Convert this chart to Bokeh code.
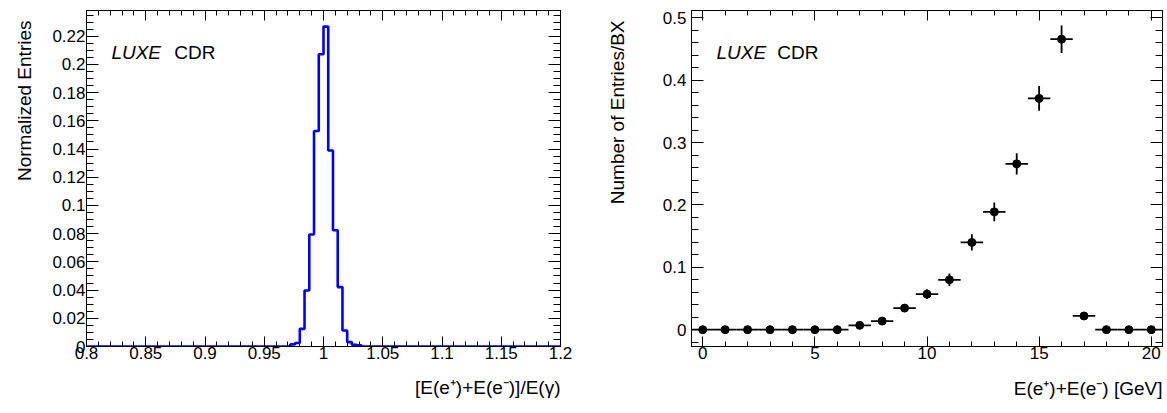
from bokeh.plotting import figure
from bokeh.models import (Range1d, SingleIntervalTicker, PrintfTickFormatter,
                          LinearAxis, Label, Title, ColumnDataSource)
from bokeh.layouts import row
from bokeh.embed import file_html
from bokeh.resources import INLINE
import numpy as np

FONT = "Liberation Sans"

# ---------------- left panel data: normalised energy-sum histogram -------------
hist_low = 0.8
hist_high = 1.2
hist_nbins = 100
hist_values = ([0.0] * 43 +
               [0.0015, 0.0025, 0.0125, 0.0397, 0.0794, 0.1528, 0.2072, 0.2268,
                0.1389, 0.0824, 0.0421, 0.0113, 0.0031, 0.0012, 0.0008] +
               [0.0] * 42)
left_xlabel = "[E(e\u207a)+E(e\u207b)]/E(\u03b3)"
left_ylabel = "Normalized Entries"

# ---------------- right panel data: entries per BX vs energy --------------------
energy = [0, 1, 2, 3, 4, 5, 6, 7, 8, 9, 10, 11, 12, 13, 14, 15, 16, 17, 18, 19, 20]
entries = [0.0, 0.0, 0.0, 0.0, 0.0, 0.0, 0.0, 0.0069, 0.0138, 0.0346, 0.057, 0.080,
           0.140, 0.189, 0.266, 0.371, 0.466, 0.022, 0.0, 0.0, 0.0]
entries_err = [0.0, 0.0, 0.0, 0.0, 0.0, 0.0, 0.0, 0.003, 0.004, 0.006, 0.008, 0.010,
               0.013, 0.015, 0.017, 0.020, 0.022, 0.005, 0.0, 0.0, 0.0]
energy_halfwidth = 0.5
right_xlabel = "E(e\u207a)+E(e\u207b) [GeV]"
right_ylabel = "Number of Entries/BX"

TICK_FS = "17px"
TITLE_FS = "19px"


def base_axis_style(ax, tick_major, tick_minor, standoff):
    ax.axis_line_color = "black"
    ax.axis_line_width = 1
    ax.major_tick_line_color = "black"
    ax.minor_tick_line_color = "black"
    ax.major_tick_in = tick_major
    ax.major_tick_out = 0
    ax.minor_tick_in = tick_minor
    ax.minor_tick_out = 0
    ax.major_label_text_font = FONT
    ax.major_label_text_font_size = TICK_FS
    ax.major_label_text_color = "black"
    ax.major_label_standoff = standoff
    ax.formatter = PrintfTickFormatter(format="%.6g")


def setup(p, xint, xminor, yint, yminor, ystandoff, xlabel, ylabel,
          xtitle_standoff, ytitle_standoff):
    p.xgrid.visible = False
    p.ygrid.visible = False
    p.outline_line_color = "black"
    p.outline_line_width = 1
    p.background_fill_color = "white"
    p.border_fill_color = "white"
    p.xaxis.ticker = SingleIntervalTicker(interval=xint, num_minor_ticks=xminor)
    p.yaxis.ticker = SingleIntervalTicker(interval=yint, num_minor_ticks=yminor)
    base_axis_style(p.xaxis[0], 10, 5, 0)
    base_axis_style(p.yaxis[0], 12, 7, ystandoff)
    # mirrored tick marks on top and right (no labels)
    top = LinearAxis(ticker=SingleIntervalTicker(interval=xint, num_minor_ticks=xminor))
    base_axis_style(top, 10, 5, 0)
    top.major_label_text_color = None
    p.add_layout(top, "above")
    rgt = LinearAxis(ticker=SingleIntervalTicker(interval=yint, num_minor_ticks=yminor))
    base_axis_style(rgt, 12, 7, 0)
    rgt.major_label_text_color = None
    p.add_layout(rgt, "right")
    # ROOT-style axis titles: x title at the right end, y title at the top end
    p.add_layout(Title(text=xlabel, align="right", vertical_align="bottom",
                       text_font=FONT, text_font_size=TITLE_FS,
                       text_font_style="normal", text_color="black",
                       standoff=xtitle_standoff, offset=0), "below")
    p.add_layout(Title(text=ylabel, align="right", vertical_align="top",
                       text_font=FONT, text_font_size=TITLE_FS,
                       text_font_style="normal", text_color="black",
                       standoff=ytitle_standoff, offset=10), "left")


def luxe(p, x1, x2, y):
    p.add_layout(Label(x=x1, y=y, text="LUXE", text_font=FONT, text_font_size="19px",
                       text_font_style="italic", text_color="black",
                       text_baseline="alphabetic"))
    p.add_layout(Label(x=x2, y=y, text="CDR", text_font=FONT, text_font_size="19px",
                       text_font_style="normal", text_color="black",
                       text_baseline="alphabetic"))


H = 412

# ---------------- left figure -------------------------------------------------
edges = np.linspace(hist_low, hist_high, hist_nbins + 1)
step_y = list(hist_values) + [hist_values[-1]]
p1 = figure(width=576, height=H, output_backend="svg", toolbar_location=None,
            x_range=Range1d(hist_low, hist_high + 1e-9), y_range=Range1d(0, 0.2382),
            min_border_left=84, min_border_right=16, min_border_top=9,
            min_border_bottom=H - 350)
setup(p1, 0.05, 5, 0.02, 4, 1, left_xlabel, left_ylabel, 26, 26)
p1.step(x=edges, y=step_y, mode="after", line_color="#0000ff", line_width=2.6)
luxe(p1, 0.821, 0.874, 0.2082)

# ---------------- right figure ------------------------------------------------
src = ColumnDataSource(dict(
    x=energy, y=entries,
    xl=[e - energy_halfwidth for e in energy], xr=[e + energy_halfwidth for e in energy],
    yl=[v - s for v, s in zip(entries, entries_err)],
    yh=[v + s for v, s in zip(entries, entries_err)],
))
p2 = figure(width=590, height=H, output_backend="svg", toolbar_location=None,
            x_range=Range1d(-0.5, 20.5), y_range=Range1d(-0.027, 0.512),
            min_border_left=114, min_border_right=4, min_border_top=10,
            min_border_bottom=H - 348)
setup(p2, 5, 5, 0.1, 5, 5, right_xlabel, right_ylabel, 28, 60)
p2.segment(x0="xl", y0="y", x1="xr", y1="y", source=src, line_color="black", line_width=1.8)
p2.segment(x0="x", y0="yl", x1="x", y1="yh", source=src, line_color="black", line_width=1.8)
p2.scatter(x="x", y="y", source=src, size=8, marker="circle", fill_color="black",
           line_color="black")
luxe(p2, 0.612, 3.326, 0.445)

layout = row(p1, p2)
open("out.html", "w").write(file_html(layout, INLINE))
